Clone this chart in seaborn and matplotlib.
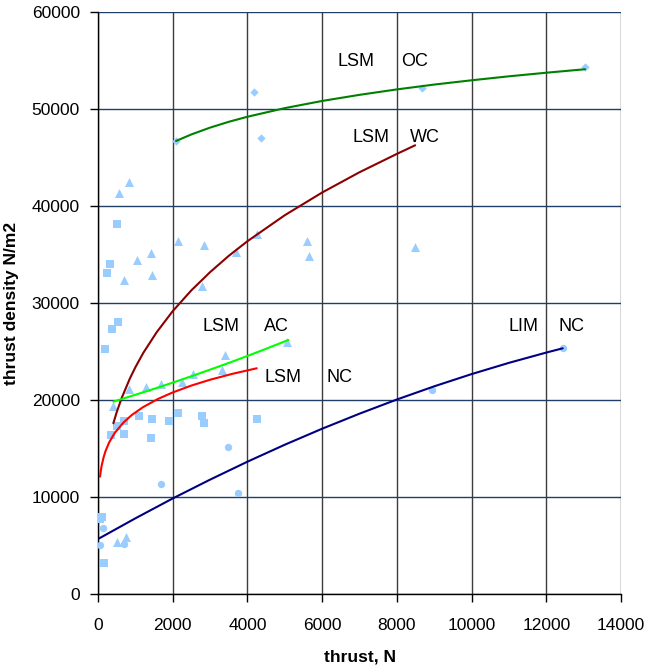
import numpy as np
import pandas as pd
import seaborn as sns
import matplotlib.pyplot as plt

# Measured points (thrust N, thrust density N/m2), grouped by marker shape
oc_x = [2088, 4168, 4356, 8683, 13040]
oc_y = [46700, 51720, 47040, 52200, 54300]

tri_x = [838, 554, 2142, 2847, 1411, 1044, 1437, 705, 2785, 4265, 3695, 5588, 5650,
         8480, 5070, 3400, 3330, 2552, 2240, 838, 1285, 1679, 402, 509, 750]
tri_y = [42440, 41310, 36420, 36010, 35120, 34400, 32890, 32340, 31750, 37110, 35290,
         36390, 34850, 35810, 26010, 24610, 23090, 22650, 21860, 21130, 21370, 21650,
         19380, 5330, 5910]

sq_x = [509, 321, 250, 545, 384, 179, 517, 705, 357, 705, 1089, 1437, 1411, 1901,
        2142, 2785, 2847, 4265, 98, 54, 161]
sq_y = [38110, 33990, 33090, 28040, 27320, 25290, 17320, 17870, 16360, 16530, 18350,
        18010, 16050, 17840, 18690, 18380, 17660, 18010, 7900, 7730, 3160]

circ_x = [1687, 3490, 3740, 134, 45, 705, 8950, 12440]
circ_y = [11340, 15120, 10380, 6840, 5080, 5190, 21030, 25330]

# Trend curves
lsm_oc_x = [2088, 2500, 3000, 3500, 4000, 5000, 6000, 7000, 8000, 9000, 10000, 11000,
            12000, 13040]
lsm_oc_y = [46700, 47380, 48080, 48680, 49200, 50090, 50830, 51460, 52020, 52520, 52960,
            53370, 53740, 54100]

lsm_wc_x = [411, 500, 634, 857, 1000, 1213, 1571, 2000, 2500, 3000, 3500, 4000, 5000,
            6000, 7000, 8000, 8490]
lsm_wc_y = [17600, 18740, 20210, 22250, 23370, 24860, 26990, 29160, 31310, 33180, 34860,
            36370, 39050, 41390, 43480, 45370, 46260]

lsm_ac_x = [411, 1000, 1500, 2000, 2500, 3000, 3500, 4000, 4500, 5095]
lsm_ac_y = [19830, 20540, 21150, 21790, 22450, 23130, 23820, 24540, 25280, 26190]

lsm_nc_x = [54, 60, 80, 100, 150, 200, 300, 450, 678, 900, 1200, 1600, 2000, 2500, 3000,
            3600, 4249]
lsm_nc_y = [12090, 12280, 12830, 13260, 14090, 14720, 15640, 16620, 17660, 18440, 19250,
            20100, 20780, 21490, 22090, 22700, 23270]

lim_nc_x = [35, 1000, 2000, 3000, 4000, 5000, 6000, 7000, 8000, 9000, 10000, 11000,
            12000, 12440]
lim_nc_y = [5740, 7800, 9850, 11790, 13640, 15390, 17040, 18590, 20050, 21410, 22670,
            23830, 24890, 25330]

sns.set_style("white")
plt.rcParams['font.family'] = ['Liberation Sans', 'DejaVu Sans']
plt.rcParams['text.color'] = 'black'
plt.rcParams['axes.labelcolor'] = 'black'
plt.rcParams['xtick.color'] = 'black'
plt.rcParams['ytick.color'] = 'black'

fig = plt.figure(figsize=(6.47, 6.72), dpi=100)
ax = fig.add_axes([98 / 647, 78 / 672, 523 / 647, 582 / 672])

pt_color = '#99ccff'
sns.scatterplot(x=tri_x, y=tri_y, marker='^', s=42, color=pt_color, edgecolor=pt_color,
                linewidth=0, ax=ax, zorder=3)
sns.scatterplot(x=sq_x, y=sq_y, marker='s', s=26, color=pt_color, edgecolor=pt_color,
                linewidth=0, ax=ax, zorder=3)
sns.scatterplot(x=circ_x, y=circ_y, marker='o', s=28, color=pt_color, edgecolor=pt_color,
                linewidth=0, ax=ax, zorder=3)
sns.scatterplot(x=oc_x, y=oc_y, marker='D', s=18, color=pt_color, edgecolor=pt_color,
                linewidth=0, ax=ax, zorder=3)

curves = [
    (lsm_oc_x, lsm_oc_y, '#008000'),
    (lsm_wc_x, lsm_wc_y, '#8b0000'),
    (lsm_ac_x, lsm_ac_y, '#00ff00'),
    (lsm_nc_x, lsm_nc_y, '#ff0000'),
    (lim_nc_x, lim_nc_y, '#000080'),
]
for cx, cy, col in curves:
    sns.lineplot(x=cx, y=cy, color=col, linewidth=1.5, sort=False, estimator=None,
                 ax=ax, zorder=4)

# Labels next to each curve
labels = [
    ("LSM", 6910, 54850), ("OC", 8470, 54850),
    ("LSM", 7310, 47110), ("WC", 8760, 47110),
    ("LSM", 3290, 27530), ("AC", 4770, 27530),
    ("LSM", 4960, 22270), ("NC", 6470, 22270),
    ("LIM", 11400, 27530), ("NC", 12670, 27530),
]
for txt, tx, ty in labels:
    ax.text(tx, ty, txt, fontsize=13, color='black', ha='center', va='center', zorder=5)

ax.set_xlim(0, 14000)
ax.set_ylim(0, 60000)
ax.set_xticks(np.arange(0, 14001, 2000))
ax.set_yticks(np.arange(0, 60001, 10000))

ax.xaxis.grid(True, color='#3c3c3c', linewidth=1.0)
ax.yaxis.grid(True, color='#1f3f66', linewidth=1.0)
ax.set_axisbelow(True)

for side in ['top', 'right']:
    ax.spines[side].set_visible(False)
for side in ['left', 'bottom']:
    ax.spines[side].set_color('black')
    ax.spines[side].set_linewidth(1.0)

ax.tick_params(axis='both', which='major', direction='out', length=6, width=1,
               color='black', labelsize=12.5, left=True, bottom=True)
ax.tick_params(axis='x', pad=11)
ax.tick_params(axis='y', pad=7)

ax.set_xlabel('thrust, N', fontsize=12.5, fontweight='bold', labelpad=12)
ax.set_ylabel('thrust density N/m2', fontsize=12.5, fontweight='bold', labelpad=9)

fig.savefig('out.png', dpi=100)
